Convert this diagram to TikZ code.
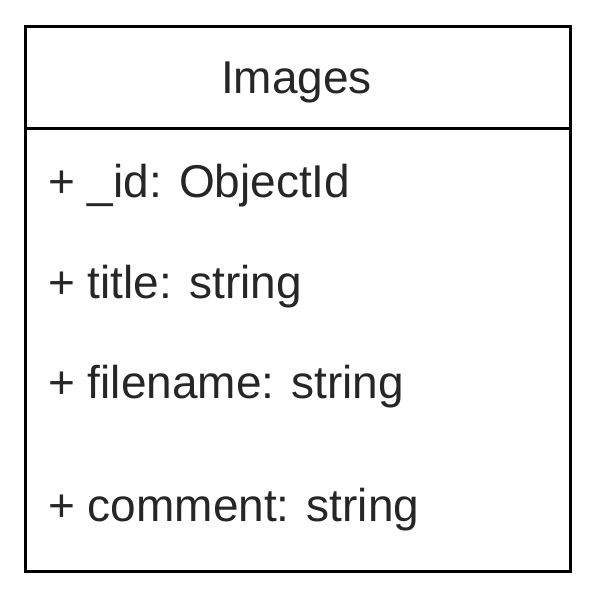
\documentclass[tikz,border=0pt]{standalone}
\usepackage{fontspec}
\setmainfont{Liberation Sans}
\begin{document}
\begin{tikzpicture}[x=1pt,y=-1pt,
  frame/.style={draw=black, line width=3pt, inner sep=0pt, anchor=north west},
  title/.style={font=\fontsize{46}{55}\selectfont, text=black!85, anchor=base},
  field/.style={font=\fontsize{46}{55}\selectfont, text=black!85, anchor=base west, inner sep=0pt}]
  \useasboundingbox (0,0) rectangle (601,616);
  % class box and its header compartment
  \node[frame, minimum width=545pt, minimum height=545pt] (box) at (24,25) {};
  \node[frame, minimum width=545pt, minimum height=102pt] (head) at (24,25) {};
  % class name
  \node[title] (name) at (296.5,93) {Images};
  % attributes
  \node[field] (f1) at (48,197) {+ \_id: ObjectId};
  \node[field] (f2) at (48,298) {+ title: string};
  \node[field] (f3) at (48,398) {+ filename: string};
  \node[field] (f4) at (48,521) {+ comment: string};
\end{tikzpicture}
\end{document}
